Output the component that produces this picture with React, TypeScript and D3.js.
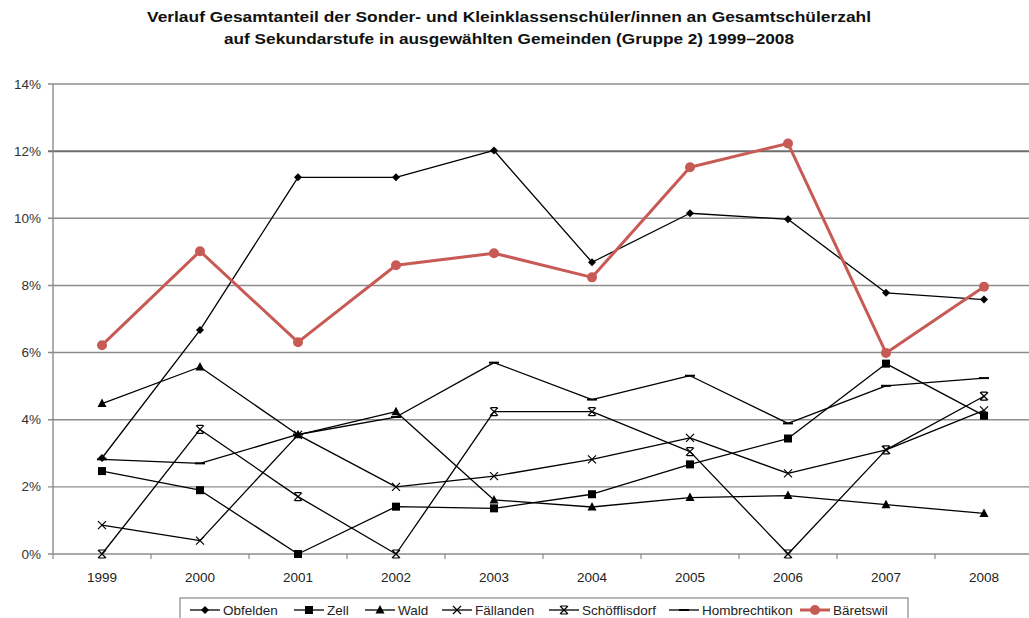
import * as d3 from 'd3';

const years = ['1999', '2000', '2001', '2002', '2003', '2004', '2005', '2006', '2007', '2008'];

const obfelden = [2.86, 6.67, 11.22, 11.22, 12.02, 8.69, 10.15, 9.97, 7.78, 7.58];
const zell = [2.47, 1.9, 0, 1.41, 1.36, 1.78, 2.67, 3.44, 5.67, 4.12];
const wald = [4.48, 5.57, 3.55, 4.24, 1.61, 1.4, 1.68, 1.74, 1.47, 1.21];
const faellanden = [0.86, 0.4, 3.55, 2.0, 2.32, 2.82, 3.46, 2.4, 3.1, 4.28];
const schoefflisdorf = [0, 3.71, 1.71, 0, 4.24, 4.24, 3.05, 0, 3.1, 4.7];
const hombrechtikon = [2.82, 2.7, 3.56, 4.08, 5.7, 4.6, 5.31, 3.89, 5.01, 5.24];
const baeretswil = [6.22, 9.02, 6.31, 8.6, 8.96, 8.24, 11.52, 12.23, 5.99, 7.96];

const yTicks = [0, 2, 4, 6, 8, 10, 12, 14];

const titleLines = [
  'Verlauf Gesamtanteil der Sonder- und Kleinklassenschüler/innen an Gesamtschülerzahl',
  'auf Sekundarstufe in ausgewählten Gemeinden (Gruppe 2) 1999–2008',
];
const titleWidths = [724, 570];

type Marker = 'diamond' | 'square' | 'triangle' | 'x' | 'star' | 'dash' | 'circle';

const series: { name: string; values: number[]; marker: Marker; color: string }[] = [
  { name: 'Obfelden', values: obfelden, marker: 'diamond', color: '#000' },
  { name: 'Zell', values: zell, marker: 'square', color: '#000' },
  { name: 'Wald', values: wald, marker: 'triangle', color: '#000' },
  { name: 'Fällanden', values: faellanden, marker: 'x', color: '#000' },
  { name: 'Schöfflisdorf', values: schoefflisdorf, marker: 'star', color: '#000' },
  { name: 'Hombrechtikon', values: hombrechtikon, marker: 'dash', color: '#000' },
  { name: 'Bäretswil', values: baeretswil, marker: 'circle', color: '#c85a55' },
];

const W = 1029;
const H = 618;
const left = 53;
const right = 1033;
const top = 84;
const bottom = 554;
const font = '"Liberation Sans", Arial, Helvetica, sans-serif';

const legendX = [190, 294, 365, 442, 549, 669, 800];

const MarkerShape = ({ type, x, y, color }: { type: Marker; x: number; y: number; color: string }) => {
  switch (type) {
    case 'diamond':
      return <path d={`M${x},${y - 4}L${x + 4},${y}L${x},${y + 4}L${x - 4},${y}Z`} fill={color} />;
    case 'square':
      return <rect x={x - 4} y={y - 4} width={8} height={8} fill={color} />;
    case 'triangle':
      return <path d={`M${x},${y - 5}L${x + 4.5},${y + 3.5}L${x - 4.5},${y + 3.5}Z`} fill={color} />;
    case 'x':
      return (
        <path d={`M${x - 4},${y - 4}L${x + 4},${y + 4}M${x + 4},${y - 4}L${x - 4},${y + 4}`} stroke={color} strokeWidth={1.2} />
      );
    case 'star':
      return (
        <path
          d={`M${x - 4},${y - 4}L${x + 4},${y + 4}M${x + 4},${y - 4}L${x - 4},${y + 4}M${x - 3},${y - 4}L${x + 3},${y - 4}M${x - 3},${y + 4}L${x + 3},${y + 4}`}
          stroke={color}
          strokeWidth={1.2}
        />
      );
    case 'dash':
      return <path d={`M${x - 5},${y}L${x + 5},${y}`} stroke={color} strokeWidth={2} />;
    case 'circle':
      return <circle cx={x} cy={y} r={5} fill={color} />;
  }
};

const App = () => {
  const xScale = d3.scalePoint<string>().domain(years).range([left, right]).padding(0.5);
  const yScale = d3.scaleLinear().domain([0, 14]).range([bottom, top]);
  const band = xScale.step();

  const line = d3
    .line<number>()
    .x((_, i) => xScale(years[i]) ?? 0)
    .y((v) => yScale(v));

  return (
    <svg width={W} height={H} style={{ position: 'absolute', left: 0, top: 0, background: '#fff' }} fontFamily={font}>
      {titleLines.map((t, i) => (
        <text
          key={t}
          x={509}
          y={22 + i * 22}
          textAnchor="middle"
          fontSize={15}
          fontWeight="bold"
          fill="#111"
          textLength={titleWidths[i]}
          lengthAdjust="spacingAndGlyphs"
        >
          {t}
        </text>
      ))}

      {yTicks.map((t) => (
        <g key={t}>
          <line
            x1={left - 5}
            x2={W}
            y1={yScale(t)}
            y2={yScale(t)}
            stroke={t === 12 ? '#6e6e6e' : '#8c8c8c'}
            strokeWidth={t === 12 ? 2 : 1.4}
          />
          <text x={41} y={yScale(t) + 4.5} textAnchor="end" fontSize={13.5} fill="#333">
            {`${t}%`}
          </text>
        </g>
      ))}

      <line x1={left} x2={left} y1={top} y2={bottom} stroke="#8c8c8c" strokeWidth={1.4} />
      {d3.range(years.length + 1).map((i) => (
        <line key={i} x1={left + i * band} x2={left + i * band} y1={bottom} y2={bottom + 5} stroke="#8c8c8c" strokeWidth={1.2} />
      ))}
      {years.map((y) => (
        <text key={y} x={xScale(y)} y={582} textAnchor="middle" fontSize={13.5} fill="#222">
          {y}
        </text>
      ))}

      {series.map((s) => (
        <g key={s.name}>
          <path
            d={line(s.values) ?? ''}
            fill="none"
            stroke={s.color}
            strokeWidth={s.marker === 'circle' ? 3 : 1.3}
            strokeLinejoin="round"
          />
          {s.values.map((v, i) => (
            <MarkerShape key={i} type={s.marker} x={xScale(years[i]) ?? 0} y={yScale(v)} color={s.color} />
          ))}
        </g>
      ))}

      <rect x={180} y={598} width={728} height={30} fill="#fff" stroke="#888" strokeWidth={1.2} />
      {series.map((s, i) => {
        const x0 = legendX[i];
        return (
          <g key={s.name}>
            <line
              x1={x0}
              x2={x0 + 30}
              y1={610}
              y2={610}
              stroke={s.color}
              strokeWidth={s.marker === 'circle' ? 3 : 1.3}
            />
            <MarkerShape type={s.marker} x={x0 + 15} y={610} color={s.color} />
            <text x={x0 + 33} y={614.5} fontSize={13.5} fill="#222">
              {s.name}
            </text>
          </g>
        );
      })}
    </svg>
  );
};

export default App;
